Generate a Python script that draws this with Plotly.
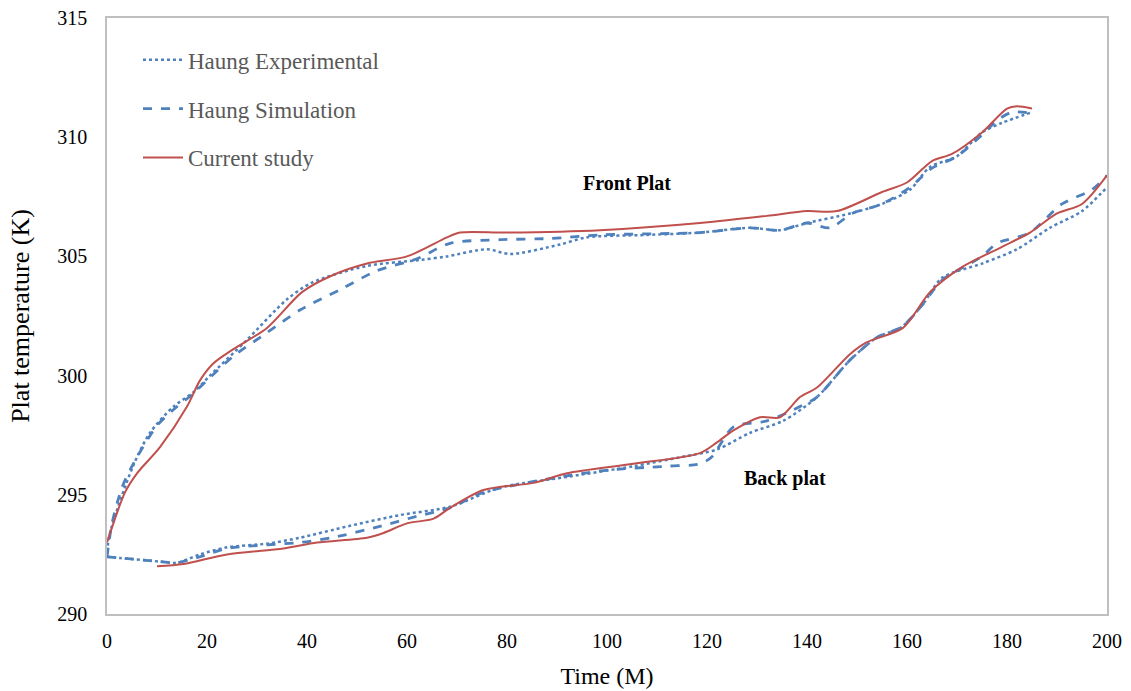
import plotly.graph_objects as go

# ---- Front plate ----
front_cur_t = [0, 3.6, 6, 10.6, 16, 18.6, 21.2, 25.2, 32, 39, 45, 52, 60, 68, 70.6, 80, 98.6, 118.6, 132, 140, 146, 155, 160, 165, 169, 175, 180, 182, 185]
front_cur_T = [293.0, 295.1, 295.9, 297.0, 298.7, 299.8, 300.5, 301.1, 302.0, 303.5, 304.2, 304.7, 305.0, 305.8, 306.0, 306.0, 306.1, 306.4, 306.7, 306.9, 306.9, 307.7, 308.1, 309.0, 309.3, 310.2, 311.2, 311.3, 311.2]

front_exp_t = [0, 0.6, 5.2, 8.6, 13.3, 17.3, 20.6, 28, 36, 41, 52, 62.6, 68, 76, 80.6, 90.6, 96, 108, 118.6, 128.6, 134.6, 140, 148.6, 155, 160.6, 164.6, 170, 175, 179, 185]
front_exp_T = [292.6, 293.4, 296.2, 297.6, 298.7, 299.3, 300.0, 301.5, 303.2, 303.9, 304.6, 304.85, 305.0, 305.3, 305.1, 305.5, 305.8, 305.9, 306.0, 306.2, 306.1, 306.4, 306.8, 307.2, 307.8, 308.75, 309.2, 310.2, 310.6, 311.05]

front_sim_t = [0, 1, 3, 5, 10, 14, 17, 20, 25.2, 32, 38.6, 46.6, 54, 62, 68.6, 78.6, 88.6, 98.6, 118.6, 128.6, 134.6, 140, 144.6, 149, 155, 160.6, 165, 170, 175, 178, 181, 185]
front_sim_T = [292.4, 293.8, 295.3, 296.2, 297.9, 298.7, 299.2, 299.8, 300.8, 301.8, 302.75, 303.6, 304.4, 304.9, 305.55, 305.7, 305.75, 305.9, 306.0, 306.2, 306.1, 306.4, 306.2, 306.8, 307.2, 307.9, 308.7, 309.2, 310.1, 310.7, 311.05, 311.0]

# ---- Back plate ----
back_cur_t = [10, 15.3, 24, 35.3, 42, 52, 55.3, 60, 65.3, 68.6, 75.3, 85.3, 92, 105.3, 118.6, 122, 125.3, 130.6, 134.6, 138.6, 142, 148.6, 152, 159.2, 164.6, 171, 179, 184.6, 190, 195, 200]
back_cur_T = [292.0, 292.1, 292.5, 292.75, 293.0, 293.2, 293.4, 293.8, 294.0, 294.45, 295.2, 295.5, 295.9, 296.3, 296.75, 297.2, 297.7, 298.25, 298.25, 299.1, 299.5, 300.9, 301.4, 302.0, 303.5, 304.55, 305.4, 306.0, 306.8, 307.2, 308.4]

back_exp_t = [0, 2.6, 10.6, 14, 18.6, 24, 32, 38.6, 48.6, 58.6, 68.6, 78.6, 92, 105.3, 115.2, 122, 128.6, 135.2, 142, 148.6, 154, 159, 163.2, 167, 175, 182, 188.6, 195, 200]
back_exp_T = [292.4, 292.35, 292.2, 292.15, 292.5, 292.8, 292.95, 293.2, 293.7, 294.15, 294.5, 295.3, 295.75, 296.2, 296.6, 296.9, 297.6, 298.1, 299.1, 300.65, 301.6, 302.05, 303.0, 304.1, 304.7, 305.3, 306.2, 306.9, 307.9]

back_sim_t = [0, 2.6, 10.6, 14, 18.6, 24, 32, 38.6, 45, 55, 62, 68.6, 75.3, 98.6, 112, 118.6, 121, 125.3, 132, 138.6, 142, 148.6, 154, 159, 163.2, 167, 175, 178, 184.6, 191, 197, 200]
back_sim_T = [292.4, 292.35, 292.2, 292.15, 292.4, 292.75, 292.9, 293.0, 293.2, 293.7, 294.1, 294.45, 295.1, 296.0, 296.2, 296.3, 296.6, 297.85, 298.1, 298.7, 299.1, 300.65, 301.6, 302.05, 303.0, 304.0, 305.0, 305.55, 306.0, 307.2, 307.8, 308.4]

x_ticks = [0, 20, 40, 60, 80, 100, 120, 140, 160, 180, 200]
y_ticks = [290, 295, 300, 305, 310, 315]

BLUE = "#4F81BD"
RED = "#C0504D"

fig = go.Figure()

def add(t, T, name, color, dash, width, show, group):
    fig.add_trace(go.Scatter(
        x=t, y=T, mode="lines", name=name, legendgroup=group, showlegend=show,
        line=dict(color=color, dash=dash, width=width, shape="spline", smoothing=0.8),
        hoverinfo="skip",
    ))

add(front_exp_t, front_exp_T, "Haung Experimental", BLUE, "dot", 2.5, True, "exp")
add(front_sim_t, front_sim_T, "Haung Simulation", BLUE, "dash", 2.8, True, "sim")
add(front_cur_t, front_cur_T, "Current study", RED, "solid", 2, True, "cur")
add(back_exp_t, back_exp_T, "Haung Experimental", BLUE, "dot", 2.5, False, "exp")
add(back_sim_t, back_sim_T, "Haung Simulation", BLUE, "dash", 2.8, False, "sim")
add(back_cur_t, back_cur_T, "Current study", RED, "solid", 2, False, "cur")

fig.add_annotation(x=104, y=308.1, text="<b>Front Plat</b>", showarrow=False,
                   font=dict(family="Liberation Serif", size=20, color="black"))
fig.add_annotation(x=135.6, y=295.7, text="<b>Back plat</b>", showarrow=False,
                   font=dict(family="Liberation Serif", size=20, color="black"))

fig.update_layout(
    width=1131, height=691,
    margin=dict(l=107, r=24, t=18, b=77),
    paper_bgcolor="white", plot_bgcolor="white",
    font=dict(family="Liberation Serif", color="#000000"),
    legend=dict(x=0.031, y=0.966, xanchor="left", yanchor="top",
                font=dict(family="Liberation Serif", size=23, color="#595959"),
                tracegroupgap=16, bgcolor="rgba(0,0,0,0)", itemwidth=40),
    xaxis=dict(range=[0, 200], tickvals=x_ticks, ticks="", showgrid=False, zeroline=False,
               showline=True, linecolor="#BFBFBF", linewidth=1.5, mirror=True,
               ticklabelstandoff=8, automargin=False,
               tickfont=dict(family="Liberation Serif", size=20, color="#000000"),
               title=dict(text="Time (M)", font=dict(family="Liberation Serif", size=24, color="#000000"), standoff=16)),
    yaxis=dict(range=[290, 315], tickvals=y_ticks, ticks="", showgrid=False, zeroline=False,
               showline=True, linecolor="#BFBFBF", linewidth=1.5, mirror=True,
               ticklabelstandoff=14, automargin=False,
               tickfont=dict(family="Liberation Serif", size=20, color="#000000"),
               title=dict(text="Plat temperature (K)", font=dict(family="Liberation Serif", size=26, color="#000000"), standoff=20)),
)

fig.write_html("out.html")
